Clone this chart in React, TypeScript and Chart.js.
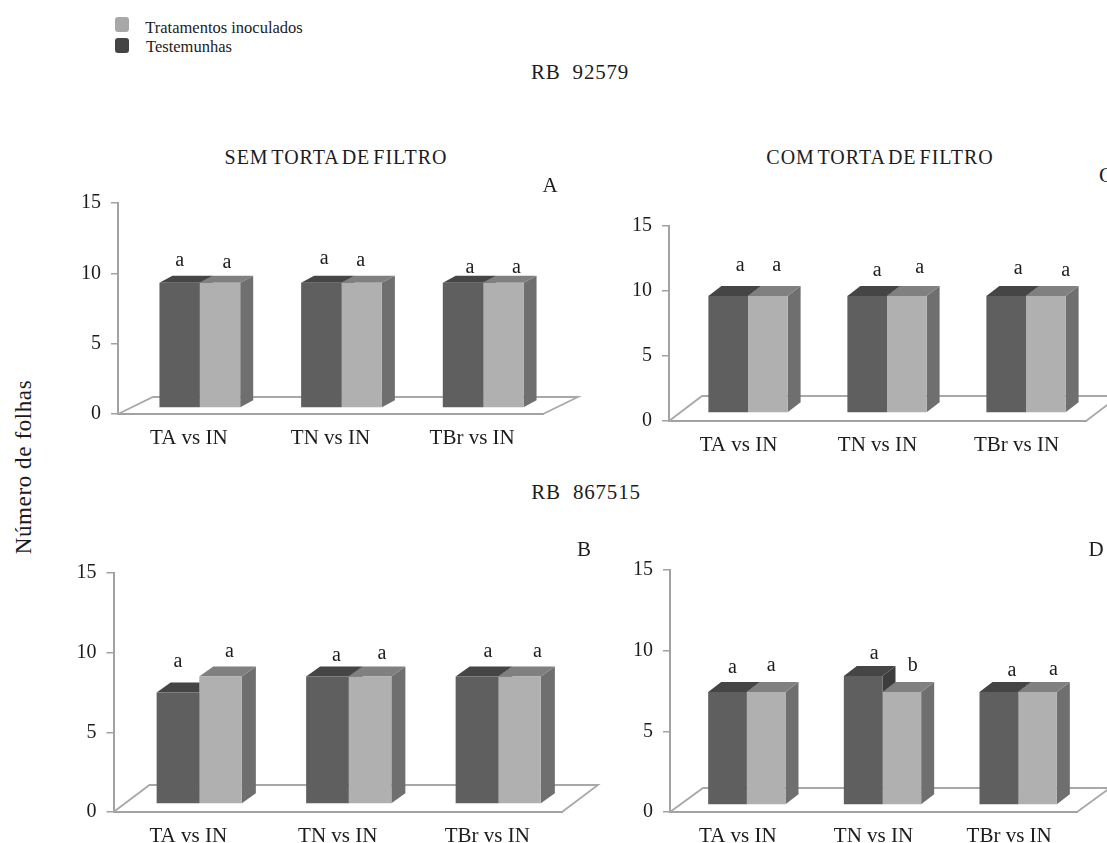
import React, { useEffect, useRef } from "react";
import { Chart, registerables } from "chart.js";

Chart.register(...registerables);

const categories = ["TA vs IN", "TN vs IN", "TBr vs IN"];
const seriesNames = ["Testemunhas", "Tratamentos inoculados"];

const controlA = [8.9, 8.9, 8.9];
const inoculatedA = [8.9, 8.9, 8.9];
const controlB = [7, 8, 8];
const inoculatedB = [8, 8, 8];
const controlC = [9, 9, 9];
const inoculatedC = [9, 9, 9];
const controlD = [7, 8, 7];
const inoculatedD = [7, 7, 7];

const controlLettersA = ["a", "a", "a"];
const inoculatedLettersA = ["a", "a", "a"];
const controlLettersB = ["a", "a", "a"];
const inoculatedLettersB = ["a", "a", "a"];
const controlLettersC = ["a", "a", "a"];
const inoculatedLettersC = ["a", "a", "a"];
const controlLettersD = ["a", "a", "a"];
const inoculatedLettersD = ["a", "b", "a"];

const SERIF = '"Liberation Serif", "Times New Roman", serif';
const TEXT = "#1c1c1c";
const AXIS = "#a2a2a2";
const FRONT = ["#5f5f5f", "#b0b0b0"];
const TOP = ["#454545", "#808080"];
const SIDE = ["#3d3d3d", "#6f6f6f"];

type Panel = {
  control: number[];
  inoculated: number[];
  letters: string[][];
  rect: { left: number; top: number; right: number; bottom: number };
  axisX: number;
  rightX: number;
  y15: number;
  y0: number;
  shift: [number, number];
  floor: [number, number];
  depth: [number, number];
  letterShift: [number, number][][];
};

const panels: Panel[] = [
  {
    control: controlA,
    inoculated: inoculatedA,
    letters: [controlLettersA, inoculatedLettersA],
    rect: { left: 50, top: 168, right: 600, bottom: 470 },
    axisX: 118,
    rightX: 543,
    y15: 203,
    y0: 414,
    shift: [11, -6],
    floor: [35, 17],
    depth: [13, 7],
    letterShift: [
      [[0, -22], [3, -24], [7, -15]],
      [[7, -20], [-1, -22], [13, -15]],
    ],
  },
  {
    control: controlC,
    inoculated: inoculatedC,
    letters: [controlLettersC, inoculatedLettersC],
    rect: { left: 610, top: 190, right: 1107, bottom: 470 },
    axisX: 669,
    rightX: 1086,
    y15: 226,
    y0: 421,
    shift: [9.5, -8],
    floor: [33, 25],
    depth: [13, 10],
    letterShift: [
      [[12, -30], [10, -25], [12, -27]],
      [[9, -30], [13, -28], [20, -25]],
    ],
  },
  {
    control: controlB,
    inoculated: inoculatedB,
    letters: [controlLettersB, inoculatedLettersB],
    rect: { left: 50, top: 535, right: 610, bottom: 843 },
    axisX: 113.5,
    rightX: 562,
    y15: 573,
    y0: 812,
    shift: [11, -8],
    floor: [36, 27],
    depth: [14, 10],
    letterShift: [
      [[0, -31], [9, -21], [11, -25]],
      [[9, -25], [12, -23], [18, -25]],
    ],
  },
  {
    control: controlD,
    inoculated: inoculatedD,
    letters: [controlLettersD, inoculatedLettersD],
    rect: { left: 610, top: 535, right: 1107, bottom: 843 },
    axisX: 670,
    rightX: 1077,
    y15: 570,
    y0: 812,
    shift: [9, -7],
    floor: [33, 24],
    depth: [13, 10],
    letterShift: [
      [[5, -24], [11, -22], [13, -21]],
      [[5, -26], [11, -26], [16, -22]],
    ],
  },
];

function poly(ctx: CanvasRenderingContext2D, pts: number[][], fill: string) {
  ctx.beginPath();
  pts.forEach(([x, y], i) => (i ? ctx.lineTo(x, y) : ctx.moveTo(x, y)));
  ctx.closePath();
  ctx.fillStyle = fill;
  ctx.fill();
}

function makeChart(canvas: HTMLCanvasElement, p: Panel) {
  const solid = {
    id: "solid",
    beforeDatasetsDraw(chart: any) {
      const ctx: CanvasRenderingContext2D = chart.ctx;
      const { left, right, bottom } = chart.chartArea;
      const [fx, fy] = p.floor;
      ctx.save();
      ctx.strokeStyle = "#a8a8a8";
      ctx.lineWidth = 1.8;
      ctx.beginPath();
      ctx.moveTo(left, bottom);
      ctx.lineTo(left + fx, bottom - fy);
      ctx.lineTo(right + fx, bottom - fy);
      ctx.lineTo(right, bottom);
      ctx.stroke();
      ctx.restore();

      ctx.save();
      ctx.translate(p.shift[0], p.shift[1]);
      const [dx, dy] = p.depth;
      [0, 1].forEach((d) => {
        chart.getDatasetMeta(d).data.forEach((el: any) => {
          const l = el.x - el.width / 2;
          const r = el.x + el.width / 2;
          const t = el.y;
          const b = el.base;
          poly(ctx, [[r, t], [r + dx, t - dy], [r + dx, b - dy], [r, b]], SIDE[d]);
          poly(ctx, [[l, t], [r, t], [r + dx, t - dy], [l + dx, t - dy]], TOP[d]);
        });
      });
    },
    afterDatasetsDraw(chart: any) {
      const ctx: CanvasRenderingContext2D = chart.ctx;
      ctx.restore();
      ctx.save();
      ctx.font = `20px ${SERIF}`;
      ctx.fillStyle = TEXT;
      ctx.textAlign = "center";
      ctx.textBaseline = "middle";
      [0, 1].forEach((d) => {
        chart.getDatasetMeta(d).data.forEach((el: any, i: number) => {
          const [sx, sy] = p.letterShift[d][i];
          ctx.fillText(p.letters[d][i], el.x + p.shift[0] + sx, el.y + p.shift[1] + sy);
        });
      });
      ctx.restore();
    },
  };

  return new Chart(canvas, {
    type: "bar",
    data: {
      labels: categories,
      datasets: [
        { label: seriesNames[0], data: p.control, backgroundColor: FRONT[0], borderWidth: 0 },
        { label: seriesNames[1], data: p.inoculated, backgroundColor: FRONT[1], borderWidth: 0 },
      ],
    },
    plugins: [solid],
    options: {
      responsive: false,
      animation: false,
      datasets: { bar: { categoryPercentage: 0.57, barPercentage: 1 } },
      layout: {
        padding: {
          top: p.y15 - p.rect.top,
          right: p.rect.right - p.rightX,
          left: 0,
          bottom: 0,
        },
      },
      plugins: { legend: { display: false }, title: { display: false }, tooltip: { enabled: false } },
      scales: {
        x: {
          afterFit: (s: any) => {
            s.height = p.rect.bottom - p.y0;
          },
          grid: { display: false, drawTicks: false },
          border: { color: AXIS, width: 2 },
          ticks: { color: TEXT, padding: 12, maxRotation: 0, font: { family: SERIF, size: 21 } },
        },
        y: {
          min: 0,
          max: 15,
          afterFit: (s: any) => {
            s.width = p.axisX - p.rect.left;
          },
          grid: { drawOnChartArea: false, drawTicks: true, tickLength: 7, color: AXIS, lineWidth: 1.5 },
          border: { color: AXIS, width: 2 },
          ticks: { stepSize: 5, color: TEXT, padding: 10, font: { family: SERIF, size: 20 } },
        },
      },
    },
  } as any);
}

const label = (
  text: string,
  cx: number,
  cy: number,
  size: number,
  spacing = 0,
  rotate = 0,
  wordSpacing = 0,
): React.ReactElement => (
  <span
    key={text}
    style={{
      position: "absolute",
      left: cx,
      top: cy,
      transform: `translate(-50%, -50%) rotate(${rotate}deg)`,
      whiteSpace: "pre",
      fontFamily: SERIF,
      fontSize: size,
      letterSpacing: spacing,
      wordSpacing,
      color: TEXT,
      lineHeight: 1,
    }}
  >
    {text}
  </span>
);

export default function App() {
  const refs = useRef<(HTMLCanvasElement | null)[]>([]);

  useEffect(() => {
    const charts = panels.map((p, i) => makeChart(refs.current[i] as HTMLCanvasElement, p));
    return () => charts.forEach((c) => c.destroy());
  }, []);

  return (
    <div
      style={{
        position: "fixed",
        left: 0,
        top: 0,
        width: 1107,
        height: 843,
        overflow: "hidden",
        background: "#fff",
        filter: "blur(0.6px)",
      }}
    >
      {panels.map((p, i) => (
        <canvas
          key={i}
          ref={(el) => {
            refs.current[i] = el;
          }}
          width={p.rect.right - p.rect.left}
          height={p.rect.bottom - p.rect.top}
          style={{ position: "absolute", left: p.rect.left, top: p.rect.top }}
        />
      ))}
      <div style={{ position: "absolute", left: 115, top: 17, width: 14, height: 15, borderRadius: 3, background: "#a8a8a8" }} />
      <div style={{ position: "absolute", left: 115, top: 38, width: 14, height: 15, borderRadius: 3, background: "#444444" }} />
      {label("Tratamentos inoculados", 224, 28, 16.5)}
      {label("Testemunhas", 189, 47, 16.5)}
      {label("RB  92579", 580, 72, 21, 0.8)}
      {label("RB  867515", 586, 492, 21, 0.8)}
      {label("SEM TORTA DE FILTRO", 336, 157, 20, 1, 0, -3)}
      {label("COM TORTA DE FILTRO", 880, 157, 20, 1, 0, -3)}
      {label("A", 550, 185, 21)}
      {label("B", 584, 549, 21)}
      {label("C", 1106, 175, 21)}
      {label("D", 1096, 549, 21)}
      {label("Número de folhas", 23, 467, 23, 0.6, -90)}
    </div>
  );
}
